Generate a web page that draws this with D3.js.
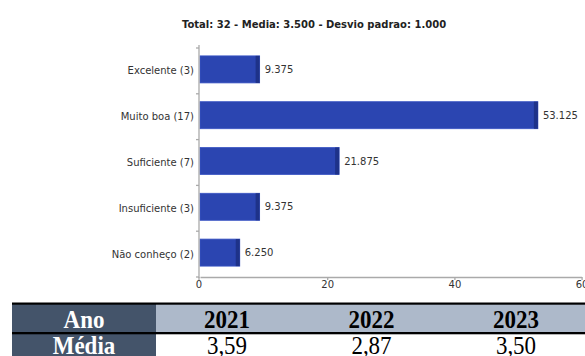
<!DOCTYPE html>
<html><head><meta charset="utf-8">
<script src="https://cdn.jsdelivr.net/npm/d3@7"></script>
<style>body{margin:0;background:#fff}svg{display:block}</style>
</head><body>
<svg id="c" width="585" height="356"></svg>
<script>
const categories = ["Excelente (3)", "Muito boa (17)", "Suficiente (7)", "Insuficiente (3)", "Não conheço (2)"];
const values = [9.375, 53.125, 21.875, 9.375, 6.250];
const xTicks = [0, 20, 40, 60];
const title = "Total: 32 - Media: 3.500 - Desvio padrao: 1.000";
const tableYears = ["2021", "2022", "2023"];
const tableMeans = ["3,59", "2,87", "3,50"];
const tableHead = ["Ano", "Média"];

const svg = d3.select("#c");
const x = d3.scaleLinear().domain([0, 60]).range([200, 581.6]);
const yT = d3.scaleBand().domain(categories).range([48, 277]);
const y = d3.scaleBand().domain(categories).range([46.5, 275.5]).paddingInner(0.41).paddingOuter(0.205);

svg.append("text").attr("x", 314).attr("y", 28).attr("text-anchor", "middle")
  .attr("font-family", "DejaVu Sans").attr("font-weight", "bold").attr("font-size", 10)
  .attr("fill", "#222").text(title);

// bars
const g = svg.append("g");
categories.forEach((c, i) => {
  const v = values[i];
  const x0 = x(0), x1 = x(v), yy = y(c), h = y.bandwidth();
  g.append("rect").attr("x", x0).attr("y", yy).attr("width", x1 - x0).attr("height", h)
    .attr("fill", "#2b45b1").attr("stroke", "#3a55c4").attr("stroke-width", 0.8);
  g.append("rect").attr("x", x1 - 4).attr("y", yy).attr("width", 4).attr("height", h)
    .attr("fill", "#1e3289");
  g.append("text").attr("x", x1 + 5).attr("y", yy + h / 2).attr("dy", "0.35em")
    .attr("font-family", "DejaVu Sans").attr("font-size", 10).attr("fill", "#333")
    .text(v.toFixed(3));
  g.append("text").attr("x", 194).attr("y", yT(c) + yT.bandwidth() / 2).attr("dy", "0.35em")
    .attr("text-anchor", "end")
    .attr("font-family", "DejaVu Sans").attr("font-size", 10).attr("fill", "#333")
    .text(c);
});

// y axis
svg.append("line").attr("x1", 199).attr("x2", 199).attr("y1", 45).attr("y2", 278)
  .attr("stroke", "#aaa").attr("stroke-width", 1.3);
categories.forEach(c => {
  svg.append("line").attr("x1", 196).attr("x2", 199).attr("y1", yT(c)).attr("y2", yT(c))
    .attr("stroke", "#aaa").attr("stroke-width", 1.3);
});
svg.append("line").attr("x1", 196).attr("x2", 199).attr("y1", 277).attr("y2", 277)
  .attr("stroke", "#aaa").attr("stroke-width", 1.3);

// x axis
const xa = svg.append("g").attr("transform", "translate(0,277)")
  .call(d3.axisBottom(x).tickValues(xTicks).tickSize(3).tickSizeOuter(0).tickFormat(d3.format("d")));
xa.select(".domain").attr("stroke", "#aaa").attr("stroke-width", 1.3);
xa.selectAll(".tick line").attr("stroke", "#aaa").attr("stroke-width", 1.3);
xa.selectAll(".tick text").attr("font-family", "DejaVu Sans").attr("font-size", 10)
  .attr("fill", "#333").attr("dy", "0.5em");
xa.selectAll(".tick").filter(d => d === 0).attr("transform", "translate(199,0)");

// table
const colX = [84, 227, 371.5, 516];
svg.append("rect").attr("x", 12).attr("y", 304).attr("width", 144).attr("height", 52).attr("fill", "#44546a");
svg.append("rect").attr("x", 156).attr("y", 304).attr("width", 429).attr("height", 29).attr("fill", "#adb9ca");
svg.append("rect").attr("x", 12).attr("y", 302.5).attr("width", 573).attr("height", 2.2).attr("fill", "#000");
svg.append("rect").attr("x", 12).attr("y", 332).attr("width", 573).attr("height", 2.3).attr("fill", "#000");
const serif = "Liberation Serif";
function cellText(cx, by, txt, bold, fill) {
  svg.append("text").attr("transform", `translate(${cx},${by}) scale(1,1.12)`)
    .attr("text-anchor", "middle").attr("font-family", serif)
    .attr("font-weight", bold ? "bold" : "normal").attr("font-size", 23)
    .attr("fill", fill).text(txt);
}
cellText(colX[0], 328, tableHead[0], true, "#fff");
cellText(colX[0], 354, tableHead[1], true, "#fff");
tableYears.forEach((t, i) => {
  cellText(colX[i + 1], 328, t, true, "#000");
  cellText(colX[i + 1], 354, tableMeans[i], false, "#000");
});
</script>
</body></html>
